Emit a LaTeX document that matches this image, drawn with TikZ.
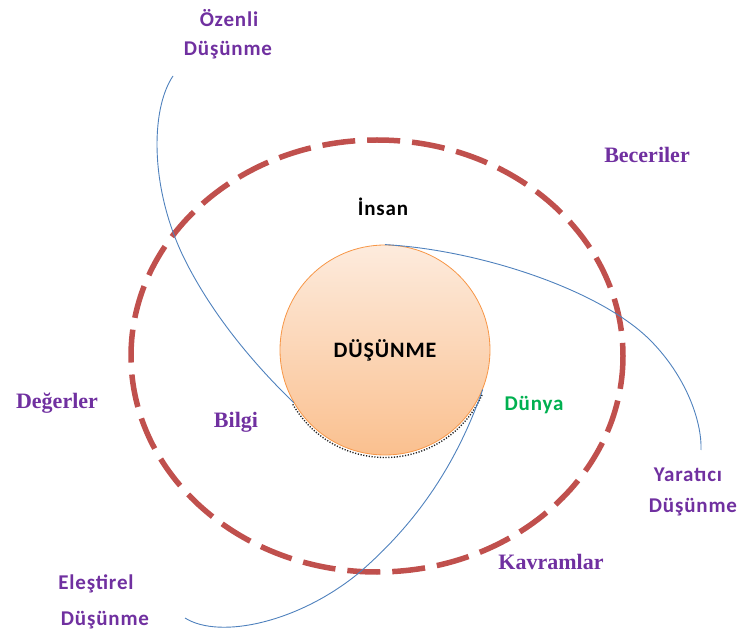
\documentclass[tikz,border=0pt]{standalone}
\usepackage{fontspec}
\setmainfont{Liberation Serif}
\newfontfamily\calib[LetterSpace=4]{Carlito}
\definecolor{purp}{HTML}{7030A0}
\definecolor{grn}{HTML}{00B050}
\definecolor{dashred}{HTML}{C0504D}
\definecolor{curveblue}{HTML}{4F81BD}
\definecolor{orangeedge}{HTML}{F79646}
\definecolor{peachtop}{HTML}{FDEBDD}
\definecolor{peachbot}{HTML}{FAC08F}
\begin{document}
\begin{tikzpicture}[x=1pt,y=-1pt,
  sanslab/.style={font=\calib\bfseries\fontsize{21}{24}\selectfont, text=purp, inner sep=0pt},
  seriflab/.style={font=\bfseries\fontsize{22}{26}\selectfont, text=purp, inner sep=0pt},
  link/.style={draw=curveblue, line width=0.9pt},
  ring/.style={draw=dashred, line width=5.5pt, dash pattern=on 33pt off 12pt},
  core/.style={circle, minimum size=210pt, inner sep=0pt, draw=orangeedge, line width=0.8pt,
    top color=peachtop, bottom color=peachbot,
    font=\calib\bfseries\fontsize{22}{24}\selectfont, text=black}]
\useasboundingbox (0,0) rectangle (740,639);

% outer dashed ring
\draw[ring] (377,356) ellipse [x radius=246, y radius=216];

% dotted shadow edge under the central circle
\draw[black!85, line width=1.4pt, dash pattern=on 1.2pt off 1.6pt] (385,351) ++(150:106.5) arc[start angle=150, end angle=24, radius=106.5];

% central circle
\node[core] (core) at (385,350) {DÜŞÜNME};

% free ends of the connectors
\coordinate (ozEnd) at (173,76);
\coordinate (yaEnd) at (701,450);
\coordinate (elEnd) at (185,618);

% connectors
\draw[link] (ozEnd) .. controls (150,110) and (150,190) .. (185,260)
  .. controls (215,320) and (260,370) .. (core.210);
\draw[link] (core.north) .. controls (480,250) and (600,290) .. (650,340)
  .. controls (685,375) and (702,420) .. (yaEnd);
\draw[link] (core.338) .. controls (458,460) and (420,520) .. (360,572)
  .. controls (300,622) and (220,640) .. (elEnd);

% labels
\node[sanslab] (ozenli) at (229,18) {Özenli};
\node[sanslab] (ozenli2) at (228,50) {Düşünme};
\node[seriflab] (beceriler) at (647,155) {Beceriler};
\node[sanslab, text=black] (insan) at (383,207) {İnsan};
\node[seriflab] (degerler) at (57,403) {Değerler};
\node[seriflab] (bilgi) at (236,422) {Bilgi};
\node[sanslab, text=grn] (dunya) at (534,405) {Dünya};
\node[sanslab] (yaratici) at (688,475) {Yaratıcı};
\node[sanslab] (yaratici2) at (693,507) {Düşünme};
\node[seriflab] (kavramlar) at (551,562) {Kavramlar};
\node[sanslab] (elestirel) at (96,584) {Eleştirel};
\node[sanslab] (elestirel2) at (105,620) {Düşünme};
\end{tikzpicture}
\end{document}
